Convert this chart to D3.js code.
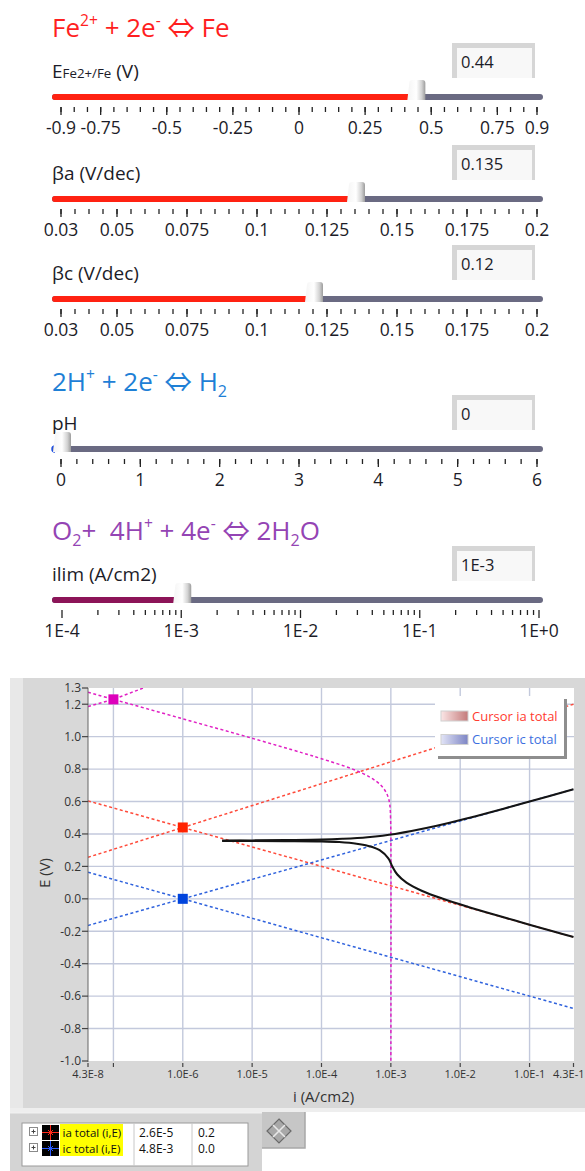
<!DOCTYPE html>
<html>
<head>
<meta charset="utf-8">
<script src="https://cdn.jsdelivr.net/npm/d3@7"></script>
<style>
  body { margin: 0; background: #fff; }
  svg { display: block; font-family: "Open Sans", sans-serif; }
  text { white-space: pre; }
</style>
</head>
<body>
<div id="chart"></div>
<script>
// ---- slider data ----
const feTicks = [-0.9, -0.75, -0.5, -0.25, 0, 0.25, 0.5, 0.75, 0.9];
const betaTicks = [0.03, 0.05, 0.075, 0.1, 0.125, 0.15, 0.175, 0.2];
const phTicks = [0, 1, 2, 3, 4, 5, 6];
const ilimTicks = [1e-4, 1e-3, 1e-2, 1e-1, 1];
const ilimLabels = ["1E-4", "1E-3", "1E-2", "1E-1", "1E+0"];

const eFe = 0.44, betaA = 0.135, betaC = 0.12, pH = 0, iLim = 1e-3;
const valueLabels = ["0.44", "0.135", "0.12", "0", "1E-3"];

// ---- Evans diagram data (i in A/cm2, E in V) ----
const feAnodic = [[4.3e-8, 0.256], [1e-6, 0.44], [0.43, 1.20]];
const feCathodic = [[4.3e-8, 0.604], [1e-6, 0.44], [0.43, -0.236]];
const h2Anodic = [[4.3e-8, -0.164], [1e-6, 0], [0.43, 0.676]];
const h2Cathodic = [[4.3e-8, 0.164], [1e-6, 0], [0.43, -0.676]];
const o2Anodic = [[4.3e-8, 1.186], [1e-7, 1.23], [2.7e-7, 1.30]];
const o2Cathodic = [[4.3e-8, 1.274], [1e-7, 1.23], [1e-6, 1.11], [1e-5, 0.99], [5.3e-5, 0.90],
  [1e-4, 0.864], [2.8e-4, 0.80], [5e-4, 0.75], [7.2e-4, 0.70], [8.7e-4, 0.65], [9.5e-4, 0.60],
  [9.8e-4, 0.55], [9.9e-4, 0.50], [1e-3, 0.40], [1e-3, -1.0]];
const iaTotal = [[3.7e-6, 0.359], [1e-5, 0.360], [3e-5, 0.362], [1e-4, 0.365], [2e-4, 0.370],
  [4.6e-4, 0.38], [1.15e-3, 0.40], [4.6e-3, 0.45], [1.37e-2, 0.50], [4e-2, 0.553], [0.1, 0.60], [0.43, 0.676]];
const icTotal = [[3.7e-6, 0.357], [1e-5, 0.357], [3e-5, 0.356], [1e-4, 0.354], [1.8e-4, 0.35],
  [3.2e-4, 0.34], [5.4e-4, 0.32], [6.9e-4, 0.30], [9.2e-4, 0.25], [1.05e-3, 0.20], [1.24e-3, 0.15],
  [1.68e-3, 0.10], [2.78e-3, 0.05], [5.64e-3, 0.0], [1.31e-2, -0.05], [3.26e-2, -0.10],
  [8.4e-2, -0.15], [0.216, -0.20], [0.43, -0.236]];
const eqI = [1e-6, 1e-6, 1e-7];
const eqE = [0.44, 0.0, 1.23];

const yTicks = [1.3, 1.2, 1.0, 0.8, 0.6, 0.4, 0.2, 0.0, -0.2, -0.4, -0.6, -0.8, -1.0];
const yGrid = [1.2, 1.0, 0.8, 0.6, 0.4, 0.2, 0.0, -0.2, -0.4, -0.6, -0.8];
const xTicks = [4.3e-8, 1e-7, 1e-6, 1e-5, 1e-4, 1e-3, 1e-2, 1e-1, 4.3e-1];
const xTickLabels = ["4.3E-8", "", "1.0E-6", "1.0E-5", "1.0E-4", "1.0E-3", "1.0E-2", "1.0E-1", "4.3E-1"];
const xGrid = [1e-7, 1e-6, 1e-5, 1e-4, 1e-3, 1e-2, 1e-1];

const legendNames = ["Cursor ia total", "Cursor ic total"];
const cursorNames = ["ia total (i,E)", "ic total (i,E)"];
const cursorI = ["2.6E-5", "4.8E-3"];
const cursorE = ["0.2", "0.0"];

// ---- drawing ----
const W = 585, H = 1171;
const svg = d3.select("#chart").append("svg").attr("width", W).attr("height", H);
const defs = svg.append("defs");

const tg = defs.append("linearGradient").attr("id", "thumbGrad")
  .attr("x1", 0).attr("y1", 0).attr("x2", 1).attr("y2", 0);
tg.append("stop").attr("offset", "0%").attr("stop-color", "#f4f4f4");
tg.append("stop").attr("offset", "50%").attr("stop-color", "#ffffff");
tg.append("stop").attr("offset", "80%").attr("stop-color", "#d2d2d2");
tg.append("stop").attr("offset", "100%").attr("stop-color", "#9c9c9c");

function rich(g, x, y, parts, size, color) {
  const t = g.append("text").attr("x", x).attr("y", y)
    .attr("font-size", size).attr("fill", color);
  let shift = 0;
  parts.forEach(([s, kind]) => {
    let target = 0, fs = null;
    if (kind === "sup") { target = -0.42 * size; fs = size * 0.6; }
    if (kind === "sub") { target = 0.22 * size; fs = size * 0.62; }
    if (kind === "small") { fs = size * 0.7; }
    if (kind === "arrow") { fs = size * 1.05; target = 0.02 * size; }
    const sp = t.append("tspan").attr("dy", target - shift).text(s);
    if (fs) sp.attr("font-size", fs);
    if (kind === "arrow") sp.attr("font-family", "Noto Sans CJK JP");
    shift = target;
  });
  return t;
}

function slider(o) {
  const g = svg.append("g");
  const ty = o.trackY;
  const sc = o.scale;
  // label
  rich(g, 52, ty - 19, o.label, 19, "#1c1c28");
  // value box
  const bx = 452, by = ty - 54, bw = 83, bh = 35;
  g.append("rect").attr("x", bx).attr("y", by).attr("width", bw).attr("height", bh).attr("fill", "#d6d6d6");
  g.append("rect").attr("x", bx + 5).attr("y", by + 5).attr("width", bw - 8).attr("height", bh - 5).attr("fill", "#f8f8f8");
  g.append("text").attr("x", 461).attr("y", by + 25).attr("font-size", 16.5).attr("fill", "#1c1c28").text(o.valueText);
  // track
  g.append("line").attr("x1", 55).attr("x2", 540).attr("y1", ty).attr("y2", ty)
    .attr("stroke", "#6a6a82").attr("stroke-width", 6).attr("stroke-linecap", "round");
  const tx = sc(o.value) + 2;
  if (tx - 8 > 55) {
    g.append("line").attr("x1", 55).attr("x2", tx - 8).attr("y1", ty).attr("y2", ty)
      .attr("stroke", o.fill).attr("stroke-width", 6).attr("stroke-linecap", "round");
  } else {
    g.append("path").attr("d", `M55,${ty - 3} A3,3 0 0 0 55,${ty + 3}`).attr("fill", "none")
      .attr("stroke", o.fill).attr("stroke-width", 1.5);
  }
  // thumb
  const x0 = tx - 8, x1 = tx + 8, top = ty - 17, bot = ty + 3;
  g.append("path")
    .attr("d", `M${x0 - 2},${bot} L${x0},${top + 3} Q${x0},${top} ${x0 + 3},${top} L${x1 - 3},${top} Q${x1},${top} ${x1},${top + 3} L${x1},${bot} Z`)
    .attr("fill", "url(#thumbGrad)");
  // ticks
  g.selectAll(".minor").data(o.minor).join("line")
    .attr("x1", d => sc(d)).attr("x2", d => sc(d))
    .attr("y1", ty + 10).attr("y2", ty + 15)
    .attr("stroke", "#222").attr("stroke-width", 1.3);
  g.selectAll(".major").data(o.ticks).join("line")
    .attr("x1", d => sc(d)).attr("x2", d => sc(d))
    .attr("y1", ty + 10).attr("y2", ty + 18)
    .attr("stroke", "#222").attr("stroke-width", 1.3);
  g.selectAll(".lab").data(o.ticks).join("text")
    .attr("x", d => sc(d)).attr("y", ty + 37)
    .attr("text-anchor", "middle").attr("font-size", 17.5).attr("fill", "#1c1c28")
    .text((d, i) => o.tickText(d, i));
}

// titles
rich(svg, 52, 37, [["Fe"], ["2+", "sup"], [" + 2e"], ["-", "sup"], [" "], ["⇔", "arrow"], [" Fe"]], 26, "#ff1f1f");
rich(svg, 52, 391, [["2H"], ["+", "sup"], [" + 2e"], ["-", "sup"], [" "], ["⇔", "arrow"], [" H"], ["2", "sub"]], 26, "#1e80d6");
rich(svg, 52, 540, [["O"], ["2", "sub"], ["+  4H"], ["+", "sup"], [" + 4e"], ["-", "sup"], [" "], ["⇔", "arrow"], [" 2H"], ["2", "sub"], ["O"]], 26, "#9444b4");

const linR = d => d3.scaleLinear().domain(d).range([61, 537]);
const fmtTick = d => String(d);

slider({ trackY: 97, scale: linR([-0.9, 0.9]), ticks: feTicks, minor: d3.range(-0.9, 0.9001, 0.05),
  value: eFe, valueText: valueLabels[0], fill: "#ff2212", label: [["E"], ["Fe2+/Fe", "small"], [" (V)"]], tickText: fmtTick });
slider({ trackY: 199, scale: linR([0.03, 0.2]), ticks: betaTicks, minor: d3.range(0.03, 0.2001, 0.005),
  value: betaA, valueText: valueLabels[1], fill: "#ff2212", label: [["βa (V/dec)"]], tickText: fmtTick });
slider({ trackY: 299, scale: linR([0.03, 0.2]), ticks: betaTicks, minor: d3.range(0.03, 0.2001, 0.005),
  value: betaC, valueText: valueLabels[2], fill: "#ff2212", label: [["βc (V/dec)"]], tickText: fmtTick });
slider({ trackY: 449, scale: linR([0, 6]), ticks: phTicks, minor: d3.range(0, 6.001, 0.2),
  value: pH, valueText: valueLabels[3], fill: "#1f4fe0", label: [["pH"]], tickText: fmtTick });
const ilimMinor = [];
[1e-4, 1e-3, 1e-2, 1e-1].forEach(dec => d3.range(2, 10).forEach(k => ilimMinor.push(dec * k)));
slider({ trackY: 600, scale: d3.scaleLog().domain([1e-4, 1]).range([62, 539]), ticks: ilimTicks, minor: ilimMinor,
  value: iLim, valueText: valueLabels[4], fill: "#8c1458", label: [["ilim (A/cm2)"]], tickText: (d, i) => ilimLabels[i] });

// ---- chart panel ----
svg.append("rect").attr("x", 10).attr("y", 678).attr("width", 575).attr("height", 430).attr("fill", "#e8e8e8");
svg.append("rect").attr("x", 23).attr("y", 678).attr("width", 562).attr("height", 430).attr("fill", "#d8d8d8");
svg.append("rect").attr("x", 10).attr("y", 1108).attr("width", 575).attr("height", 4).attr("fill", "#eeeeee");

const m = { l: 88, r: 574, t: 688, b: 1061 };
const x = d3.scaleLog().domain([4.3e-8, 0.43]).range([m.l, 573.5]);
const y = d3.scaleLinear().domain([-1.0, 1.3]).range([m.b, m.t]);

svg.append("rect").attr("x", m.l).attr("y", m.t).attr("width", m.r - m.l).attr("height", m.b - m.t).attr("fill", "#fff");
defs.append("clipPath").attr("id", "plotClip").append("rect")
  .attr("x", m.l).attr("y", m.t).attr("width", m.r - m.l).attr("height", m.b - m.t);

const plot = svg.append("g").attr("clip-path", "url(#plotClip)");
plot.selectAll(".hg").data(yGrid).join("line")
  .attr("x1", m.l).attr("x2", m.r).attr("y1", d => y(d)).attr("y2", d => y(d))
  .attr("stroke", "#c3c9dc").attr("stroke-width", 1.4);
plot.selectAll(".vg").data(xGrid).join("line")
  .attr("x1", d => x(d)).attr("x2", d => x(d)).attr("y1", m.t).attr("y2", m.b)
  .attr("stroke", "#c3c9dc").attr("stroke-width", 1.4);

const straight = d3.line().x(d => x(d[0])).y(d => y(d[1]));
const smooth = d3.line().x(d => x(d[0])).y(d => y(d[1])).curve(d3.curveCatmullRom.alpha(0.5));

const dotted = [
  [feAnodic, "#ff4a3a", straight], [feCathodic, "#ff4a3a", straight],
  [h2Anodic, "#2f62dd", straight], [h2Cathodic, "#2f62dd", straight],
  [o2Anodic, "#e020c4", straight], [o2Cathodic, "#e020c4", smooth]
];
dotted.forEach(([data, color, gen]) => {
  plot.append("path").attr("d", gen(data)).attr("fill", "none")
    .attr("stroke", color).attr("stroke-width", 1.5).attr("stroke-dasharray", "3,2.5");
});
[iaTotal, icTotal].forEach(data => {
  plot.append("path").attr("d", smooth(data)).attr("fill", "none")
    .attr("stroke", "#141414").attr("stroke-width", 2.1);
});
const eqColors = ["#ff2200", "#0044dd", "#dd00bb"];
plot.selectAll(".eq").data(eqI).join("rect")
  .attr("x", d => x(d) - 5).attr("y", (d, i) => y(eqE[i]) - 5)
  .attr("width", 10).attr("height", 10).attr("fill", (d, i) => eqColors[i]);

// axes
svg.append("line").attr("x1", m.l).attr("x2", m.l).attr("y1", m.t).attr("y2", m.b + 1)
  .attr("stroke", "#666").attr("stroke-width", 1);
svg.selectAll(".yt").data(yTicks).join("line")
  .attr("x1", m.l - 6).attr("x2", m.l).attr("y1", d => y(d)).attr("y2", d => y(d))
  .attr("stroke", "#444").attr("stroke-width", 1.2);
svg.selectAll(".yl").data(yTicks).join("text")
  .attr("x", m.l - 7).attr("y", d => y(d)).attr("dy", "0.36em")
  .attr("text-anchor", "end").attr("font-size", 12).attr("fill", "#333")
  .text(d => d.toFixed(1));
svg.selectAll(".xt").data(xTicks).join("line")
  .attr("x1", d => x(d)).attr("x2", d => x(d)).attr("y1", m.b + 2).attr("y2", m.b + 6)
  .attr("stroke", "#444").attr("stroke-width", 1.2);
const lastX = xTicks.length - 1;
svg.selectAll(".xl").data(xTicks).join("text")
  .attr("x", (d, i) => i === lastX ? 584.5 : x(d)).attr("y", 1078)
  .attr("text-anchor", (d, i) => i === lastX ? "end" : "middle").attr("font-size", 11).attr("fill", "#333")
  .text((d, i) => xTickLabels[i]);
svg.append("text").attr("x", 293).attr("y", 1102).attr("font-size", 15).attr("fill", "#333").text("i (A/cm2)");
svg.append("text").attr("transform", "translate(50,873) rotate(-90)")
  .attr("text-anchor", "middle").attr("font-size", 15).attr("fill", "#333").text("E (V)");

// legend
const lg = svg.append("g");
lg.append("rect").attr("x", 438).attr("y", 699).attr("width", 129).attr("height", 60).attr("fill", "#8e8e8e");
lg.append("rect").attr("x", 435).attr("y", 696).attr("width", 129).attr("height", 60).attr("fill", "#fff");
const swCols = [["#fbe6e6", "#c47a7a", "#ff3b30"], ["#e2e4f6", "#7c84c4", "#3d6fe0"]];
swCols.forEach((c, i) => {
  const gr = defs.append("linearGradient").attr("id", "sw" + i);
  gr.append("stop").attr("offset", "0%").attr("stop-color", c[0]);
  gr.append("stop").attr("offset", "100%").attr("stop-color", c[1]);
});
lg.selectAll(".sw").data(legendNames).join("rect")
  .attr("x", 441).attr("y", (d, i) => 711 + i * 23.5).attr("width", 27).attr("height", 10)
  .attr("fill", (d, i) => `url(#sw${i})`).attr("stroke", "#d0d0d0").attr("stroke-width", 1);
lg.selectAll(".lt").data(legendNames).join("text")
  .attr("x", 472).attr("y", (d, i) => 720.5 + i * 23.5).attr("font-size", 13)
  .attr("fill", (d, i) => swCols[i][2]).text(d => d);

// ---- cursor table ----
svg.append("rect").attr("x", 10).attr("y", 1112).attr("width", 252).attr("height", 59).attr("fill", "#d4d4d4");
svg.append("rect").attr("x", 10).attr("y", 1112).attr("width", 252).attr("height", 1.5).attr("fill", "#f0f0f0");
svg.append("rect").attr("x", 22).attr("y", 1123).attr("width", 226).attr("height", 43)
  .attr("fill", "#fff").attr("stroke", "#9a9a9a").attr("stroke-width", 1);
[134, 192].forEach(cx => svg.append("line").attr("x1", cx).attr("x2", cx).attr("y1", 1123).attr("y2", 1166)
  .attr("stroke", "#c8c8c8"));
const rowY = [1132, 1148];
const curCols = ["#ff2a1a", "#2a5aff"];
cursorNames.forEach((name, i) => {
  const cy = rowY[i];
  const g = svg.append("g");
  g.append("rect").attr("x", 29.5).attr("y", cy - 4.5).attr("width", 8).attr("height", 8)
    .attr("fill", "#fff").attr("stroke", "#8a8a8a");
  g.append("path").attr("d", `M31.5,${cy - 0.5}h4M33.5,${cy - 2.5}v4`).attr("stroke", "#444");
  g.append("rect").attr("x", 42).attr("y", cy - 7).attr("width", 17).attr("height", 15).attr("fill", "#000");
  g.append("path").attr("d", `M42,${cy + 0.5}h17M50.5,${cy - 7}v15`).attr("stroke", curCols[i]).attr("stroke-width", 1);
  g.append("path").attr("d", `M48,${cy - 2}l5,5M53,${cy - 2}l-5,5`).attr("stroke", curCols[i]).attr("stroke-width", 1);
  g.append("rect").attr("x", 60).attr("y", cy - 8).attr("width", 63).attr("height", 16).attr("fill", "#ffff00");
  g.append("text").attr("x", 62.5).attr("y", cy + 4.5).attr("font-size", 11.5).attr("fill", "#111").text(name);
  g.append("text").attr("x", 139).attr("y", cy + 4.5).attr("font-size", 12).attr("fill", "#111").text(cursorI[i]);
  g.append("text").attr("x", 198).attr("y", cy + 4.5).attr("font-size", 12).attr("fill", "#111").text(cursorE[i]);
});
// diamond button
svg.append("rect").attr("x", 262).attr("y", 1112).attr("width", 43).attr("height", 36).attr("fill", "#c6c6c6");
svg.append("path").attr("d", "M262,1148h43v-36").attr("fill", "none").attr("stroke", "#a8a8a8").attr("stroke-width", 1.5);
svg.append("path").attr("d", "M279,1119 L291,1131 L279,1143 L267,1131 Z")
  .attr("fill", "#a8a8a8").attr("stroke", "#6a6a6a").attr("stroke-width", 1.2);
svg.append("path").attr("d", "M273,1125 L285,1137 M285,1125 L273,1137")
  .attr("stroke", "#e8e8e8").attr("stroke-width", 1.6);
</script>
</body>
</html>
